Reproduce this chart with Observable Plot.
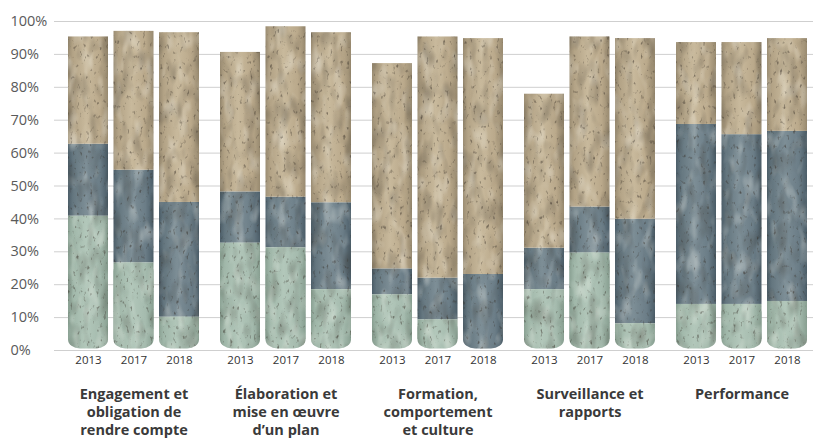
<!DOCTYPE html>
<html>
<head>
<meta charset="utf-8">
<script src="https://cdn.jsdelivr.net/npm/d3@7"></script>
<script src="https://cdn.jsdelivr.net/npm/@observablehq/plot@0.6"></script>
<style>
  html, body { margin: 0; padding: 0; background: #fff; }
  #chart { width: 813px; height: 440px; }
</style>
</head>
<body>
<svg width="0" height="0" style="position:absolute">
  <defs>
    <linearGradient id="fill-green" x1="0" x2="1" y1="0" y2="0">
      <stop offset="0" stop-color="#8aa193"/>
      <stop offset="0.12" stop-color="#a0b7a9"/>
      <stop offset="0.45" stop-color="#b2c7ba"/>
      <stop offset="0.8" stop-color="#a5bbae"/>
      <stop offset="1" stop-color="#889f91"/>
    </linearGradient>
    <linearGradient id="fill-blue" x1="0" x2="1" y1="0" y2="0">
      <stop offset="0" stop-color="#4c5e69"/>
      <stop offset="0.12" stop-color="#64767f"/>
      <stop offset="0.45" stop-color="#7d8e96"/>
      <stop offset="0.8" stop-color="#6b7d87"/>
      <stop offset="1" stop-color="#4b5d68"/>
    </linearGradient>
    <linearGradient id="fill-tan" x1="0" x2="1" y1="0" y2="0">
      <stop offset="0" stop-color="#9b8d73"/>
      <stop offset="0.12" stop-color="#b3a386"/>
      <stop offset="0.45" stop-color="#c8b99c"/>
      <stop offset="0.8" stop-color="#baa98b"/>
      <stop offset="1" stop-color="#988a70"/>
    </linearGradient>
    <filter id="grain" x="0" y="0" width="1" height="1" color-interpolation-filters="sRGB">
      <feTurbulence type="fractalNoise" baseFrequency="0.09 0.04" numOctaves="2" seed="4" result="low"/>
      <feTurbulence type="fractalNoise" baseFrequency="0.3 0.2" numOctaves="2" seed="9" result="high"/>
      <feColorMatrix in="low" type="matrix" values="0 0 0 0 0.2  0 0 0 0 0.18  0 0 0 0 0.15  0.7 0 0 0 -0.33" result="mottle"/>
      <feColorMatrix in="high" type="matrix" values="0 0 0 0 0.2  0 0 0 0 0.17  0 0 0 0 0.14  2.2 0 0 0 -1.4" result="specks"/>
      <feColorMatrix in="low" type="matrix" values="0 0 0 0 1  0 0 0 0 1  0 0 0 0 0.97  0 0.9 0 0 -0.45" result="light"/>
      <feComposite in="mottle" in2="SourceGraphic" operator="in" result="mottleC"/>
      <feComposite in="specks" in2="SourceGraphic" operator="in" result="specksC"/>
      <feComposite in="light" in2="SourceGraphic" operator="in" result="lightC"/>
      <feMerge>
        <feMergeNode in="SourceGraphic"/>
        <feMergeNode in="lightC"/>
        <feMergeNode in="mottleC"/>
        <feMergeNode in="specksC"/>
      </feMerge>
    </filter>
  </defs>
</svg>
<div id="chart"></div>
<script>
// ---- data ----
const groups = [
  "Engagement et\nobligation de\nrendre compte",
  "Élaboration et\nmise en œuvre\nd’un plan",
  "Formation,\ncomportement\net culture",
  "Surveillance et\nrapports",
  "Performance"
];
const years = ["2013", "2017", "2018"];
const segments = ["bas", "milieu", "haut"];

// values (%) per group, per year [2013, 2017, 2018]
const bottomValues = [
  [40.8, 26.6, 10.1],
  [32.6, 31.2, 18.5],
  [16.9, 9.3, 0],
  [18.5, 29.6, 8.1],
  [14.0, 14.0, 14.9]
];
const middleValues = [
  [21.9, 28.2, 34.9],
  [15.6, 15.4, 26.4],
  [7.9, 12.7, 23.1],
  [12.6, 14.0, 31.8],
  [54.7, 51.6, 51.7]
];
const topValues = [
  [32.6, 42.2, 51.6],
  [42.4, 51.8, 51.7],
  [62.4, 73.3, 71.7],
  [46.8, 51.7, 54.9],
  [24.9, 28.0, 28.2]
];
const yTicks = [0, 10, 20, 30, 40, 50, 60, 70, 80, 90, 100];

// ---- build table ----
const series = [bottomValues, middleValues, topValues];
const rows = [];
groups.forEach((g, i) => years.forEach((yr, j) => {
  let acc = 0, first = true;
  segments.forEach((s, k) => {
    const v = series[k][i][j];
    if (v <= 0) return;
    rows.push({group: g, year: yr, seg: s, y1: acc, y2: acc + v, bottom: first});
    first = false;
    acc += v;
  });
}));

// per-year placement inside each group band
const slot = {
  "2013": {insetLeft: 0, insetRight: 91, dx: -45.5},
  "2017": {insetLeft: 45.5, insetRight: 45.5, dx: 0},
  "2018": {insetLeft: 91, insetRight: 0, dx: 45.5}
};

const marks = [
  Plot.ruleY(yTicks, {stroke: "#cfcfcf", strokeWidth: 1}),
  Plot.text(yTicks, {
    y: d => d, text: d => d + "%", frameAnchor: "left", textAnchor: "start",
    dx: -44, fill: "#5a5a5a", fontSize: 14.5
  })
];

years.forEach(yr => {
  const s = slot[yr];
  const common = {x: "group", y1: "y1", y2: "y2", fill: "seg",
                  insetLeft: s.insetLeft, insetRight: s.insetRight};
  marks.push(
    Plot.barY(rows.filter(d => d.year === yr && !d.bottom), common),
    Plot.barY(rows.filter(d => d.year === yr && d.bottom), {...common, rx: 12, ry: 9, insetBottom: 1.5}),
    Plot.barY(rows.filter(d => d.year === yr && d.bottom), {...common, insetBottom: 11}),
    Plot.text(groups, {
      x: d => d, text: () => yr, frameAnchor: "bottom", dy: 13, dx: s.dx,
      fill: "#333", fontSize: 11.5
    })
  );
});

marks.push(Plot.text(groups, {
  x: d => d, text: d => d, frameAnchor: "bottom", lineAnchor: "top", dy: 36,
  lineHeight: 1.24, fontSize: 14.5, fontWeight: "bold", fill: "#3a3a3a"
}));

const chart = Plot.plot({
  width: 813,
  height: 440,
  marginLeft: 54,
  marginRight: 0,
  marginTop: 21,
  marginBottom: 90,
  style: {fontFamily: "'Open Sans', sans-serif", background: "white", overflow: "visible"},
  x: {domain: groups, range: [67, 808], paddingInner: 0.141, paddingOuter: 0, axis: null},
  y: {domain: [0, 100], axis: null},
  color: {domain: segments, range: ["url(#fill-green)", "url(#fill-blue)", "url(#fill-tan)"]},
  marks
});

d3.select(chart).selectAll('g[aria-label="bar"]').attr("filter", "url(#grain)");
document.getElementById("chart").appendChild(chart);
</script>
</body>
</html>
